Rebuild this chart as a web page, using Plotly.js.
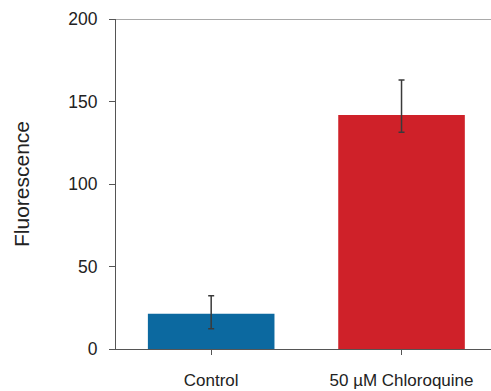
<!DOCTYPE html>
<html><head><meta charset="utf-8">
<script src="https://cdn.plot.ly/plotly-3.0.1.min.js"></script>
<style>html,body{margin:0;padding:0;background:#fff;}#chart{width:491px;height:391px;}</style>
</head><body><div id="chart"></div>
<script>
const categories = ["Control", "50 µM Chloroquine"];
const values = [21.3, 141.8];
const errPlus = [11.0, 21.2];
const errMinus = [9.0, 10.5];
const barColors = ["#0c69a0", "#cf2129"];
const yTicks = [0, 50, 100, 150, 200];

const trace = {
  type: "bar",
  x: categories,
  y: values,
  marker: {color: barColors, line: {width: 0}},
  width: 0.665,
  error_y: {type: "data", symmetric: false, array: errPlus, arrayminus: errMinus,
            color: "#3a3a3a", thickness: 1.5, width: 3},
  hoverinfo: "none"
};

const layout = {
  width: 491, height: 391,
  margin: {l: 116, r: 0, t: 19, b: 42},
  paper_bgcolor: "#fff", plot_bgcolor: "#fff",
  showlegend: false,
  font: {family: "Liberation Sans, Arial, sans-serif", color: "#222"},
  xaxis: {
    type: "category", range: [-0.5, 1.47],
    showline: true, linecolor: "#555", linewidth: 1,
    ticks: "outside", ticklen: 5, tickcolor: "#555",
    tickfont: {size: 17, color: "#222"}, ticklabelstandoff: 11,
    showgrid: false, zeroline: false, fixedrange: true
  },
  yaxis: {
    range: [0, 200], tickvals: yTicks, ticktext: yTicks.map(String),
    showline: true, linecolor: "#555", linewidth: 1,
    ticks: "outside", ticklen: 6, tickcolor: "#555",
    tickfont: {size: 17.5, color: "#222"}, ticklabelstandoff: 8,
    showgrid: false, zeroline: false,
    title: {text: "Fluorescence", font: {size: 21, color: "#222"}, standoff: 32}
  },
  shapes: [{type: "line", xref: "paper", yref: "y", x0: 0, x1: 1, y0: 200, y1: 200,
            line: {color: "#555", width: 1}}]
};

Plotly.newPlot("chart", [trace], layout, {staticPlot: true, displayModeBar: false});
</script></body></html>
